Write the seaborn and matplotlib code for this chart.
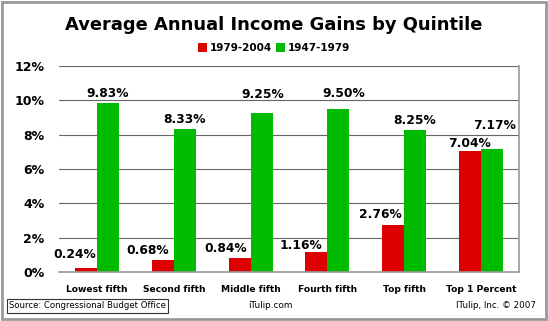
import matplotlib
matplotlib.use("Agg")
import matplotlib.pyplot as plt
import seaborn as sns
import pandas as pd
from matplotlib.patches import Rectangle, Patch

categories = ["Lowest fifth", "Second fifth", "Middle fifth", "Fourth fifth", "Top fifth", "Top 1 Percent"]
series_names = ["1979-2004", "1947-1979"]
gains_1979_2004 = [0.24, 0.68, 0.84, 1.16, 2.76, 7.04]
gains_1947_1979 = [9.83, 8.33, 9.25, 9.50, 8.25, 7.17]
ytick_values = [0, 2, 4, 6, 8, 10, 12]
colors = ["#DD0000", "#00BB00"]

# label offsets in pixels (dx, dy of label centre above bar top)
label_offsets = [
    [(-11, 13), (-15, 10), (-14, 9), (-15, 7), (-13, 10), (-1, 8)],
    [(0, 10), (0, 10), (1, 19), (5, 15), (-1, 10), (3, 23)],
]

df = pd.DataFrame({
    "category": categories * 2,
    "series": [series_names[0]] * 6 + [series_names[1]] * 6,
    "value": gains_1979_2004 + gains_1947_1979,
})

sns.set_style("white")
plt.rcParams["font.family"] = ["DejaVu Sans"]
plt.rcParams["text.color"] = "black"
plt.rcParams["xtick.color"] = "black"
plt.rcParams["ytick.color"] = "black"

W, H = 548, 321
fig = plt.figure(figsize=(W / 100, H / 100), dpi=100)
ax = fig.add_axes([58.6 / W, 1 - 272 / H, (519.4 - 58.6) / W, (272 - 66) / H])

sns.barplot(data=df, x="category", y="value", hue="series", order=categories,
            hue_order=series_names, palette=colors, width=0.572, saturation=1,
            ax=ax, legend=False, linewidth=0)

ax.set_xlim(-0.5, 5.5)
ax.set_ylim(0, 12)
ax.set_yticks(ytick_values)
ax.set_yticklabels([f"{v}%" for v in ytick_values], fontsize=9, fontweight="bold")
ax.tick_params(axis="y", length=0, pad=10)
ax.set_xlabel("")
ax.set_ylabel("")
ax.set_xticks(range(len(categories)))
ax.set_xticklabels(categories, fontsize=6.6, fontweight="bold")
ax.tick_params(axis="x", length=0, pad=9)
ax.set_xticks([i + 0.5 for i in range(-1, 6)], minor=True)
ax.tick_params(axis="x", which="minor", length=3, color="#999999", width=0.8)

ax.yaxis.grid(True, color="#666666", linewidth=0.8)
ax.set_axisbelow(True)
for s in ["left", "top"]:
    ax.spines[s].set_visible(False)
ax.spines["right"].set_color("#999999")
ax.spines["right"].set_linewidth(1.2)
ax.spines["bottom"].set_color("#999999")
ax.spines["bottom"].set_linewidth(1.2)

for ci, cont in enumerate(ax.containers):
    vals = gains_1979_2004 if ci == 0 else gains_1947_1979
    for bi, bar in enumerate(cont):
        dx, dy = label_offsets[ci][bi]
        ax.annotate(f"{vals[bi]:.2f}%", (bar.get_x() + bar.get_width() / 2, bar.get_height()),
                    xytext=(dx * 0.72, dy * 0.72), textcoords="offset points",
                    ha="center", va="center", fontsize=8.8, fontweight="bold",
                    annotation_clip=False)

fig.text(0.5, 1 - 25 / H, "Average Annual Income Gains by Quintile", ha="center", va="center",
         fontsize=12.9, fontweight="bold")

handles = [Patch(facecolor=c, edgecolor="none") for c in colors]
fig.legend(handles, series_names, loc="center", bbox_to_anchor=(0.5, 1 - 48 / H), ncol=2,
           frameon=False, prop={"size": 7.5, "weight": "bold"}, handlelength=0.9,
           handleheight=0.9, handletextpad=0.25, columnspacing=0.4, borderaxespad=0)

fig.text(9 / W, 1 - 306 / H, "Source: Congressional Budget Office", ha="left", va="center",
         fontsize=6.1, bbox=dict(boxstyle="square,pad=0.25", facecolor="white", edgecolor="#333333", linewidth=0.8))
fig.text(270.5 / W, 1 - 305 / H, "iTulip.com", ha="center", va="center", fontsize=6.4)
fig.text(536 / W, 1 - 305 / H, "ITulip, Inc. \u00a9 2007", ha="right", va="center", fontsize=6.3)

fig.patches.append(Rectangle((2 / W, 2 / H), (W - 4) / W, (H - 4) / H, transform=fig.transFigure,
                             fill=False, edgecolor="#999999", linewidth=2))

fig.savefig("out.png", dpi=100)
